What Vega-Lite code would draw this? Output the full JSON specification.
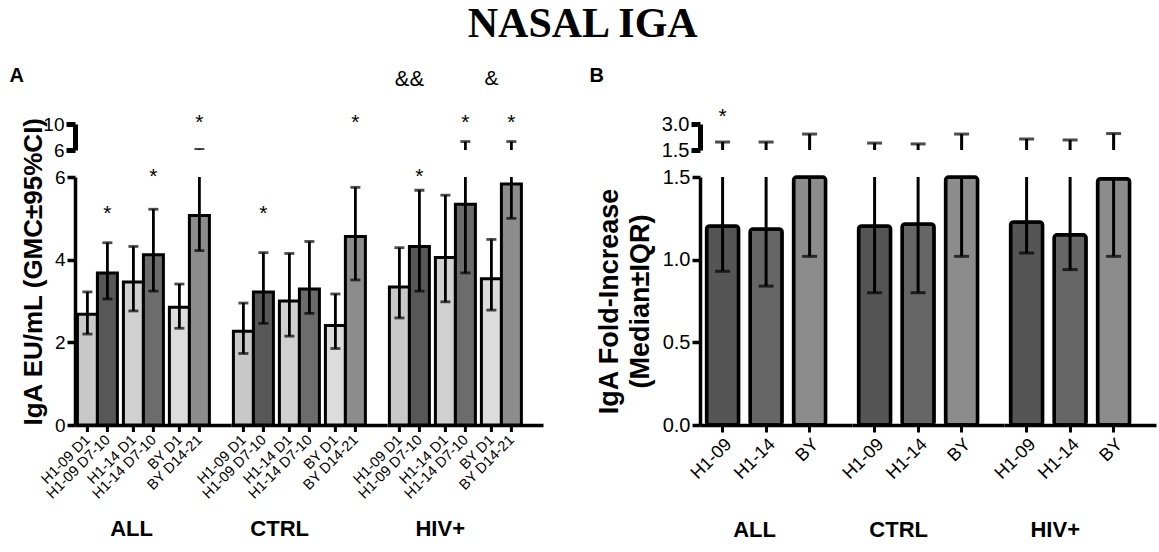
{
  "$schema": "https://vega.github.io/schema/vega-lite/v6.json",
  "background": "white",
  "padding": {"left": 9, "top": 2, "right": 1, "bottom": 5},
  "title": {"text": "NASAL IGA", "font": "Liberation Serif", "fontSize": 42, "fontWeight": "bold", "color": "black", "anchor": "middle", "frame": "bounds", "offset": 20},
  "config": {
    "view": {"stroke": null},
    "font": "Liberation Sans",
    "axis": {"grid": false, "domainColor": "black", "tickColor": "black", "labelColor": "black", "titleColor": "black", "labelFont": "Liberation Sans", "titleFont": "Liberation Sans"},
    "text": {"font": "Liberation Sans", "color": "black"}
  },
  "resolve": {"scale": {"fill": "independent"}},
  "datasets": {
    "A": [
      {"kind": "bar", "group": "ALL", "pair": "H1-09", "time": "pre", "label": "H1-09 D1", "gmc": 2.68, "lo": 2.2, "hi": 3.22},
      {"kind": "bar", "group": "ALL", "pair": "H1-09", "time": "post", "label": "H1-09 D7-10", "gmc": 3.68, "lo": 3.05, "hi": 4.41},
      {"kind": "bar", "group": "ALL", "pair": "H1-14", "time": "pre", "label": "H1-14 D1", "gmc": 3.46, "lo": 2.76, "hi": 4.32},
      {"kind": "bar", "group": "ALL", "pair": "H1-14", "time": "post", "label": "H1-14 D7-10", "gmc": 4.12, "lo": 3.24, "hi": 5.22},
      {"kind": "bar", "group": "ALL", "pair": "BY", "time": "pre", "label": "BY D1", "gmc": 2.85, "lo": 2.34, "hi": 3.41},
      {"kind": "bar", "group": "ALL", "pair": "BY", "time": "post", "label": "BY D14-21", "gmc": 5.07, "lo": 4.22, "hi": 6.1},
      {"kind": "bar", "group": "CTRL", "pair": "H1-09", "time": "pre", "label": "H1-09 D1", "gmc": 2.27, "lo": 1.73, "hi": 2.95},
      {"kind": "bar", "group": "CTRL", "pair": "H1-09", "time": "post", "label": "H1-09 D7-10", "gmc": 3.22, "lo": 2.46, "hi": 4.17},
      {"kind": "bar", "group": "CTRL", "pair": "H1-14", "time": "pre", "label": "H1-14 D1", "gmc": 3.0, "lo": 2.15, "hi": 4.15},
      {"kind": "bar", "group": "CTRL", "pair": "H1-14", "time": "post", "label": "H1-14 D7-10", "gmc": 3.29, "lo": 2.7, "hi": 4.44},
      {"kind": "bar", "group": "CTRL", "pair": "BY", "time": "pre", "label": "BY D1", "gmc": 2.41, "lo": 1.85, "hi": 3.17},
      {"kind": "bar", "group": "CTRL", "pair": "BY", "time": "post", "label": "BY D14-21", "gmc": 4.56, "lo": 3.51, "hi": 5.75},
      {"kind": "bar", "group": "HIV+", "pair": "H1-09", "time": "pre", "label": "H1-09 D1", "gmc": 3.34, "lo": 2.59, "hi": 4.29},
      {"kind": "bar", "group": "HIV+", "pair": "H1-09", "time": "post", "label": "H1-09 D7-10", "gmc": 4.32, "lo": 3.24, "hi": 5.68},
      {"kind": "bar", "group": "HIV+", "pair": "H1-14", "time": "pre", "label": "H1-14 D1", "gmc": 4.05, "lo": 2.98, "hi": 5.56},
      {"kind": "bar", "group": "HIV+", "pair": "H1-14", "time": "post", "label": "H1-14 D7-10", "gmc": 5.34, "lo": 3.68, "hi": 7.3},
      {"kind": "bar", "group": "HIV+", "pair": "BY", "time": "pre", "label": "BY D1", "gmc": 3.54, "lo": 2.78, "hi": 4.49},
      {"kind": "bar", "group": "HIV+", "pair": "BY", "time": "post", "label": "BY D14-21", "gmc": 5.83, "lo": 5.0, "hi": 7.3},
      {"kind": "note", "view": "top", "group": "ALL", "pair": "BY", "time": "post", "text": "*", "level": 10.15},
      {"kind": "note", "view": "top", "group": "CTRL", "pair": "BY", "time": "post", "text": "*", "level": 10.15},
      {"kind": "note", "view": "top", "group": "HIV+", "pair": "H1-14", "time": "post", "text": "*", "level": 10.15},
      {"kind": "note", "view": "top", "group": "HIV+", "pair": "BY", "time": "post", "text": "*", "level": 10.15},
      {"kind": "note", "view": "top", "group": "HIV+", "pair": "BY", "time": "pre", "text": "&", "level": 16.9},
      {"kind": "pairnote", "view": "top", "group": "HIV+", "pair": "H1-09", "text": "&&", "level": 16.9},
      {"kind": "panel", "view": "top", "group": "ALL", "pair": "H1-09", "time": "pre", "text": "A", "level": 17.4},
      {"kind": "note", "view": "bottom", "group": "ALL", "pair": "H1-09", "time": "post", "text": "*", "level": 5.1},
      {"kind": "note", "view": "bottom", "group": "ALL", "pair": "H1-14", "time": "post", "text": "*", "level": 6.0},
      {"kind": "note", "view": "bottom", "group": "CTRL", "pair": "H1-09", "time": "post", "text": "*", "level": 5.1},
      {"kind": "note", "view": "bottom", "group": "HIV+", "pair": "H1-09", "time": "post", "text": "*", "level": 6.0}
    ],
    "B": [
      {"kind": "bar", "group": "ALL", "vac": "H1-09", "med": 1.204, "lo": 0.93, "hi": 1.96},
      {"kind": "bar", "group": "ALL", "vac": "H1-14", "med": 1.186, "lo": 0.84, "hi": 1.96},
      {"kind": "bar", "group": "ALL", "vac": "BY", "med": 1.5, "lo": 1.02, "hi": 2.42},
      {"kind": "bar", "group": "CTRL", "vac": "H1-09", "med": 1.204, "lo": 0.8, "hi": 1.9},
      {"kind": "bar", "group": "CTRL", "vac": "H1-14", "med": 1.216, "lo": 0.8, "hi": 1.85},
      {"kind": "bar", "group": "CTRL", "vac": "BY", "med": 1.5, "lo": 1.02, "hi": 2.42},
      {"kind": "bar", "group": "HIV+", "vac": "H1-09", "med": 1.228, "lo": 1.04, "hi": 2.13},
      {"kind": "bar", "group": "HIV+", "vac": "H1-14", "med": 1.15, "lo": 0.94, "hi": 2.08},
      {"kind": "bar", "group": "HIV+", "vac": "BY", "med": 1.49, "lo": 1.02, "hi": 2.45},
      {"kind": "note", "group": "ALL", "vac": "H1-09", "text": "*", "level": 3.4},
      {"kind": "panel", "group": "ALL", "vac": "H1-09", "text": "B", "level": 5.77}
    ]
  },
  "columns": 2,
  "align": "each",
  "bounds": "flush",
  "spacing": {"row": 53, "column": 625},
  "concat": [
    {
      "data": {"name": "A"},
      "facet": {"column": {"field": "group", "type": "nominal", "sort": ["ALL", "CTRL", "HIV+"], "header": {"labels": false, "title": null}}},
      "spacing": 0,
      "bounds": "flush",
      "spec": {
        "width": 156,
        "height": 26,
        "layer": [
          {
            "transform": [{"filter": "datum.kind == 'bar'"}],
            "mark": {"type": "rule", "clip": true, "strokeWidth": 2.8, "color": "black"},
            "encoding": {
              "x": {"field": "pair", "type": "nominal", "scale": {"domain": ["H1-09", "H1-14", "BY"], "paddingInner": 0.1304, "paddingOuter": 0.261, "align": 0.1}, "axis": null},
              "xOffset": {"field": "time", "type": "nominal", "scale": {"domain": ["pre", "post"], "paddingInner": 0, "paddingOuter": 0}},
              "y": {"field": "lo", "type": "quantitative", "scale": {"domain": [6, 10], "nice": false, "zero": false}, "axis": {"values": [6, 10], "title": null, "domainWidth": 5, "tickWidth": 5, "tickSize": 9, "labelFontSize": 19, "labelPadding": 2}},
              "y2": {"field": "hi"}
            }
          },
          {
            "transform": [{"filter": "datum.kind == 'bar'"}],
            "mark": {"type": "tick", "clip": true, "thickness": 2.8, "size": 10, "color": "black"},
            "encoding": {
              "x": {"field": "pair", "type": "nominal", "axis": null},
              "xOffset": {"field": "time", "type": "nominal"},
              "y": {"field": "hi", "type": "quantitative"}
            }
          },
          {
            "transform": [{"filter": "datum.kind == 'note' && datum.view == 'top'"}],
            "mark": {"type": "text", "fontSize": 21, "baseline": "middle"},
            "encoding": {
              "x": {"field": "pair", "type": "nominal", "axis": null},
              "xOffset": {"field": "time", "type": "nominal"},
              "y": {"field": "level", "type": "quantitative"},
              "text": {"field": "text"}
            }
          },
          {
            "transform": [{"filter": "datum.kind == 'pairnote'"}],
            "mark": {"type": "text", "fontSize": 22, "baseline": "middle"},
            "encoding": {
              "x": {"field": "pair", "type": "nominal", "axis": null},
              "y": {"field": "level", "type": "quantitative"},
              "text": {"field": "text"}
            }
          },
          {
            "transform": [{"filter": "datum.kind == 'panel'"}],
            "mark": {"type": "text", "fontSize": 20, "fontWeight": "bold", "align": "left", "baseline": "middle", "dx": -78},
            "encoding": {
              "x": {"field": "pair", "type": "nominal", "axis": null},
              "xOffset": {"field": "time", "type": "nominal"},
              "y": {"field": "level", "type": "quantitative"},
              "text": {"field": "text"}
            }
          }
        ]
      }
    },
    {
      "data": {"name": "B"},
      "facet": {"column": {"field": "group", "type": "nominal", "sort": ["ALL", "CTRL", "HIV+"], "header": {"labels": false, "title": null}}},
      "spacing": 0,
      "bounds": "flush",
      "spec": {
        "width": 152,
        "height": 26,
        "layer": [
          {
            "transform": [{"filter": "datum.kind == 'bar'"}],
            "mark": {"type": "rule", "clip": true, "strokeWidth": 3, "color": "black"},
            "encoding": {
              "x": {"field": "vac", "type": "nominal", "scale": {"domain": ["H1-09", "H1-14", "BY"], "paddingInner": 0.264, "paddingOuter": 0.379, "align": 0.2}, "axis": null},
              "y": {"field": "lo", "type": "quantitative", "scale": {"domain": [1.5, 3.0], "nice": false, "zero": false}, "axis": {"values": [1.5, 3.0], "format": ".1f", "title": null, "domainWidth": 5, "tickWidth": 5, "tickSize": 9, "labelFontSize": 20, "labelPadding": 2}},
              "y2": {"field": "hi"}
            }
          },
          {
            "transform": [{"filter": "datum.kind == 'bar'"}],
            "mark": {"type": "tick", "clip": true, "thickness": 3, "size": 15, "color": "black"},
            "encoding": {
              "x": {"field": "vac", "type": "nominal", "axis": null},
              "y": {"field": "hi", "type": "quantitative"}
            }
          },
          {
            "transform": [{"filter": "datum.kind == 'note'"}],
            "mark": {"type": "text", "fontSize": 21, "baseline": "middle"},
            "encoding": {
              "x": {"field": "vac", "type": "nominal", "axis": null},
              "y": {"field": "level", "type": "quantitative"},
              "text": {"field": "text"}
            }
          },
          {
            "transform": [{"filter": "datum.kind == 'panel'"}],
            "mark": {"type": "text", "fontSize": 20, "fontWeight": "bold", "align": "left", "baseline": "middle", "dx": -133},
            "encoding": {
              "x": {"field": "vac", "type": "nominal", "axis": null},
              "y": {"field": "level", "type": "quantitative"},
              "text": {"field": "text"}
            }
          }
        ]
      }
    },
    {
      "data": {"name": "A"},
      "facet": {"column": {"field": "group", "type": "nominal", "sort": ["ALL", "CTRL", "HIV+"], "header": {"title": null, "labelOrient": "bottom", "labelAlign": "right", "labelFont": "Liberation Sans", "labelFontSize": 22, "labelFontWeight": "bold", "labelColor": "black", "labelPadding": 94}}},
      "spacing": 0,
      "bounds": "flush",
      "spec": {
        "width": 156,
        "height": 248,
        "layer": [
          {
            "transform": [{"filter": "datum.kind == 'bar'"}],
            "mark": {"type": "bar", "stroke": "black", "strokeWidth": 3},
            "encoding": {
              "x": {"field": "pair", "type": "nominal", "scale": {"domain": ["H1-09", "H1-14", "BY"], "paddingInner": 0.1304, "paddingOuter": 0.261, "align": 0.1}, "axis": {"labels": false, "ticks": false, "domainWidth": 3.5, "title": null}},
              "xOffset": {"field": "time", "type": "nominal", "scale": {"domain": ["pre", "post"], "paddingInner": 0, "paddingOuter": 0}},
              "y": {"field": "gmc", "type": "quantitative", "scale": {"domain": [0, 6], "nice": false}, "axis": {"values": [0, 2, 4, 6], "title": "IgA EU/mL (GMC±95%CI)", "titleFontSize": 26, "titleFontWeight": "bold", "titleAnchor": "start", "titlePadding": 8, "domainWidth": 3.5, "tickWidth": 3.5, "tickSize": 8, "labelFontSize": 19, "labelPadding": 2}},
              "fill": {"field": "label", "type": "nominal", "scale": {"domain": ["H1-09 D1", "H1-09 D7-10", "H1-14 D1", "H1-14 D7-10", "BY D1", "BY D14-21"], "range": ["#c8c8c8", "#575757", "#d0d0d0", "#6c6c6c", "#dcdcdc", "#8c8c8c"]}, "legend": null}
            }
          },
          {
            "transform": [{"filter": "datum.kind == 'bar'"}],
            "mark": {"type": "rule", "clip": true, "strokeWidth": 2.8, "color": "black"},
            "encoding": {
              "x": {"field": "pair", "type": "nominal"},
              "xOffset": {"field": "time", "type": "nominal"},
              "y": {"field": "lo", "type": "quantitative"},
              "y2": {"field": "hi"}
            }
          },
          {
            "transform": [{"filter": "datum.kind == 'bar'"}],
            "mark": {"type": "tick", "clip": true, "thickness": 2.8, "size": 10, "color": "black"},
            "encoding": {
              "x": {"field": "pair", "type": "nominal"},
              "xOffset": {"field": "time", "type": "nominal"},
              "y": {"field": "hi", "type": "quantitative"}
            }
          },
          {
            "transform": [{"filter": "datum.kind == 'bar'"}],
            "mark": {"type": "tick", "clip": true, "thickness": 2.8, "size": 10, "color": "black"},
            "encoding": {
              "x": {"field": "pair", "type": "nominal"},
              "xOffset": {"field": "time", "type": "nominal"},
              "y": {"field": "lo", "type": "quantitative"}
            }
          },
          {
            "transform": [{"filter": "datum.kind == 'note' && datum.view == 'bottom'"}],
            "mark": {"type": "text", "fontSize": 21, "baseline": "middle"},
            "encoding": {
              "x": {"field": "pair", "type": "nominal"},
              "xOffset": {"field": "time", "type": "nominal"},
              "y": {"field": "level", "type": "quantitative"},
              "text": {"field": "text"}
            }
          },
          {
            "transform": [{"filter": "datum.kind == 'bar'"}],
            "mark": {"type": "rule", "strokeWidth": 3, "color": "black"},
            "encoding": {
              "x": {"field": "pair", "type": "nominal"},
              "xOffset": {"field": "time", "type": "nominal"},
              "y": {"datum": 0},
              "y2": {"datum": -0.17}
            }
          },
          {
            "transform": [{"filter": "datum.kind == 'bar'"}],
            "mark": {"type": "text", "fontSize": 14.5, "angle": 315, "align": "right", "baseline": "middle", "dx": 1},
            "encoding": {
              "x": {"field": "pair", "type": "nominal"},
              "xOffset": {"field": "time", "type": "nominal"},
              "y": {"datum": -0.33},
              "text": {"field": "label"}
            }
          }
        ]
      }
    },
    {
      "data": {"name": "B"},
      "facet": {"column": {"field": "group", "type": "nominal", "sort": ["ALL", "CTRL", "HIV+"], "header": {"title": null, "labelOrient": "bottom", "labelAlign": "right", "labelFont": "Liberation Sans", "labelFontSize": 22, "labelFontWeight": "bold", "labelColor": "black", "labelPadding": 38}}},
      "spacing": 0,
      "bounds": "flush",
      "spec": {
        "width": 152,
        "height": 248,
        "layer": [
          {
            "transform": [{"filter": "datum.kind == 'bar'"}],
            "mark": {"type": "bar", "stroke": "black", "strokeWidth": 3.5, "cornerRadius": 3},
            "encoding": {
              "x": {"field": "vac", "type": "nominal", "scale": {"domain": ["H1-09", "H1-14", "BY"], "paddingInner": 0.264, "paddingOuter": 0.379, "align": 0.2}, "axis": {"labelAngle": -45, "labelFontSize": 18, "labelPadding": 3, "tickSize": 7, "tickWidth": 3, "domainWidth": 3.5, "title": null}},
              "y": {"field": "med", "type": "quantitative", "scale": {"domain": [0, 1.5], "nice": false}, "axis": {"values": [0, 0.5, 1.0, 1.5], "format": ".1f", "title": ["IgA Fold-Increase", "(Median±IQR)"], "titleFontSize": 27, "titleFontWeight": "bold", "titlePadding": 8, "titleLineHeight": 31, "domainWidth": 3.5, "tickWidth": 3.5, "tickSize": 8, "labelFontSize": 20, "labelPadding": 2}},
              "fill": {"field": "vac", "type": "nominal", "scale": {"domain": ["H1-09", "H1-14", "BY"], "range": ["#555555", "#666666", "#8c8c8c"]}, "legend": null}
            }
          },
          {
            "transform": [{"filter": "datum.kind == 'bar'"}],
            "mark": {"type": "rule", "clip": true, "strokeWidth": 3, "color": "black"},
            "encoding": {
              "x": {"field": "vac", "type": "nominal"},
              "y": {"field": "lo", "type": "quantitative"},
              "y2": {"field": "hi"}
            }
          },
          {
            "transform": [{"filter": "datum.kind == 'bar'"}],
            "mark": {"type": "tick", "clip": true, "thickness": 3, "size": 15, "color": "black"},
            "encoding": {
              "x": {"field": "vac", "type": "nominal"},
              "y": {"field": "lo", "type": "quantitative"}
            }
          }
        ]
      }
    }
  ]
}
